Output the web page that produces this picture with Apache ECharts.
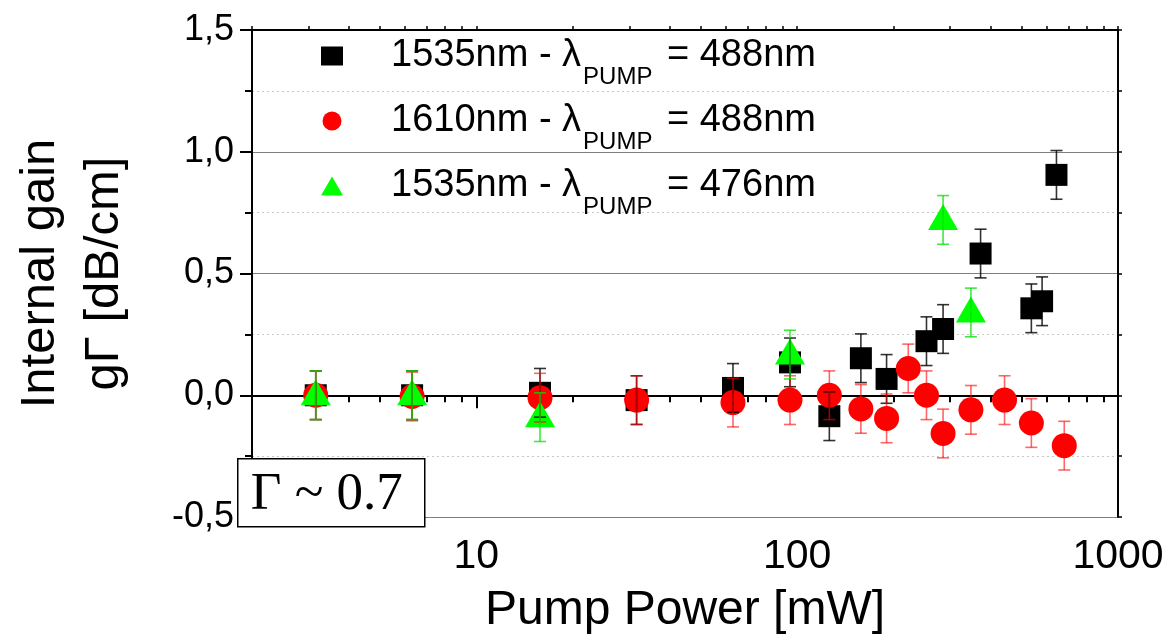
<!DOCTYPE html>
<html><head><meta charset="utf-8">
<script src="https://cdn.jsdelivr.net/npm/echarts@6/dist/echarts.min.js"></script>
<style>html,body{margin:0;padding:0;background:#fff}#c{width:1169px;height:640px}</style>
</head><body><div id="c"></div>
<script>
// ---- data ----
const seriesNames = ['1535nm - λPUMP = 488nm', '1610nm - λPUMP = 488nm', '1535nm - λPUMP = 476nm'];
const xBlack = [3.16, 6.31, 15.8, 31.6, 63.1, 95, 126, 158, 190, 253, 285, 373, 537, 580, 643];
const yBlack = [0.0, 0.0, 0.01, -0.02, 0.03, 0.135, -0.086, 0.152, 0.067, 0.222, 0.272, 0.582, 0.357, 0.386, 0.905];
const eBlack = [0.1, 0.1, 0.1, 0.1, 0.1, 0.1, 0.1, 0.1, 0.1, 0.1, 0.1, 0.1, 0.1, 0.1, 0.1];
const xRed = [3.16, 6.31, 15.8, 31.6, 63.1, 95, 126, 158, 190, 222, 253, 285, 348, 443, 537, 680];
const yRed = [0.0, -0.005, -0.01, -0.02, -0.03, -0.02, 0.0, -0.056, -0.095, 0.11, 0.0, -0.157, -0.06, -0.02, -0.114, -0.207];
const eRed = [0.1, 0.1, 0.1, 0.1, 0.1, 0.1, 0.1, 0.1, 0.1, 0.1, 0.1, 0.1, 0.1, 0.1, 0.1, 0.1];
const xGreen = [3.16, 6.31, 15.8, 95, 285, 348];
const yGreen = [0.0, 0.0, -0.09, 0.167, 0.72, 0.34];
const eGreen = [0.1, 0.1, 0.1, 0.1, 0.1, 0.1];
const xMajorTicks = [10, 100, 1000];
const xMinorTicks = [2, 3, 4, 5, 6, 7, 8, 9, 20, 30, 40, 50, 60, 70, 80, 90, 200, 300, 400, 500, 600, 700, 800, 900];
const yTickValues = [-0.5, 0, 0.5, 1, 1.5];
const yTickLabels = ['-0,5', '0,0', '0,5', '1,0', '1,5'];
const xTitle = 'Pump Power [mW]';
const yTitle = 'Internal gain\ngΓ [dB/cm]';
const noteText = 'Γ ~ 0.7';

// ---- helpers ----
const zip = (xs, ys, es) => xs.map((x, i) => es ? [x, ys[i], es[i]] : [x, ys[i]]);
function errRender(color, op) {
  return function (params, api) {
    const x = api.value(0), y = api.value(1), e = api.value(2);
    const t = api.coord([x, y + e]), b = api.coord([x, y - e]);
    const w = 6;
    const st = { stroke: color, lineWidth: 1.6, opacity: op };
    return { type: 'group', children: [
      { type: 'line', shape: { x1: t[0], y1: t[1], x2: b[0], y2: b[1] }, style: st },
      { type: 'line', shape: { x1: t[0] - w, y1: t[1], x2: t[0] + w, y2: t[1] }, style: st },
      { type: 'line', shape: { x1: b[0] - w, y1: b[1], x2: b[0] + w, y2: b[1] }, style: st }
    ]};
  };
}
const sans = "'Liberation Sans', Arial, sans-serif";
const black = { color: '#000', width: 2 };

const chart = echarts.init(document.getElementById('c'));
chart.setOption({
  animation: false,
  backgroundColor: '#fff',
  grid: { left: 241, right: 51, top: 30, bottom: 120, containLabel: false },
  legend: {
    orient: 'vertical', left: 316, top: 32, itemGap: 13, itemWidth: 22, itemHeight: 19,
    data: seriesNames,
    formatter: function (name) {
      const p = name.split('λPUMP');
      return '{g| }{a|' + p[0] + 'λ}{h| }{s|PUMP}{k| }{a|' + p[1] + '}';
    },
    textStyle: {
      color: '#000', fontFamily: sans, fontSize: 38,
      rich: {
        g: { width: 43, fontSize: 10, lineHeight: 66 },
        h: { width: 2, fontSize: 4, lineHeight: 66 },
        k: { width: 4, fontSize: 4, lineHeight: 66 },
        a: { fontSize: 38, fontFamily: sans, color: '#000', lineHeight: 66 },
        s: { fontSize: 24, fontFamily: sans, color: '#000', lineHeight: 24, verticalAlign: 'bottom' }
      }
    }
  },
  xAxis: [
    { type: 'log', logBase: 10, min: 2, max: 1000, position: 'bottom',
      axisLine: { lineStyle: black },
      axisTick: { show: true, inside: false, length: 7, lineStyle: { color: '#000', width: 2 }, customValues: xMinorTicks },
      axisLabel: { show: false }, splitLine: { show: false }, minorTick: { show: false } },
    { type: 'log', logBase: 10, min: 2, max: 1000, position: 'bottom',
      axisLine: { show: false },
      axisTick: { show: true, inside: false, length: 13, lineStyle: { color: '#000', width: 2 }, customValues: xMajorTicks },
      axisLabel: { show: true, customValues: xMajorTicks, margin: 19, fontSize: 41, fontFamily: sans, color: '#000',
        formatter: v => String(Math.round(v)) },
      splitLine: { show: false },
      name: xTitle, nameLocation: 'middle', nameGap: 70, nameMoveOverlap: false,
      nameTextStyle: { fontSize: 48, fontFamily: sans, color: '#000' } },
    { type: 'log', logBase: 10, min: 2, max: 1000, position: 'top',
      axisLine: { lineStyle: black },
      axisTick: { show: true, inside: false, length: 4, lineStyle: { color: '#000', width: 1.5 }, customValues: xMinorTicks.concat(xMajorTicks) },
      axisLabel: { show: false }, splitLine: { show: false } }
  ],
  yAxis: [
    { type: 'value', min: -0.5, max: 1.5, interval: 0.5, position: 'left',
      axisLine: { lineStyle: black },
      axisTick: { show: true, inside: false, length: 12, lineStyle: { color: '#000', width: 2 } },
      minorTick: { show: true, splitNumber: 2, length: 7, lineStyle: { color: '#000', width: 2 } },
      axisLabel: { margin: 18, fontSize: 36, fontFamily: sans, color: '#000',
        formatter: v => { const i = yTickValues.findIndex(t => Math.abs(t - v) < 1e-9); return i >= 0 ? yTickLabels[i] : ''; } },
      splitLine: { show: true, lineStyle: { color: '#7f7f7f', width: 1 } },
      minorSplitLine: { show: true, lineStyle: { color: '#c8c8c8', width: 1, type: [2, 3] } },
      name: yTitle, nameLocation: 'middle', nameRotate: 90, nameGap: 116, nameMoveOverlap: false,
      nameTextStyle: { fontSize: 49, fontFamily: sans, color: '#000', lineHeight: 64 } },
    { type: 'value', min: -0.5, max: 1.5, interval: 0.5, position: 'right',
      axisLine: { show: true, lineStyle: black },
      axisTick: { show: true, inside: false, length: 4, lineStyle: { color: '#000', width: 1.5 } },
      minorTick: { show: true, splitNumber: 2, length: 4, lineStyle: { color: '#000', width: 1.5 } },
      axisLabel: { show: false }, splitLine: { show: false } }
  ],
  series: [
    { name: seriesNames[0], type: 'scatter', symbol: 'rect', symbolSize: 22, z: 2,
      itemStyle: { color: '#000', opacity: 1 }, data: zip(xBlack, yBlack) },
    { name: seriesNames[1], type: 'scatter', symbol: 'circle', symbolSize: 25, z: 3,
      itemStyle: { color: '#ff0000', opacity: 1 }, data: zip(xRed, yRed) },
    { name: seriesNames[2], type: 'scatter', symbol: 'triangle', symbolSize: [30, 26], symbolOffset: [0, -3], z: 4,
      itemStyle: { color: '#00ff00', opacity: 1 }, data: zip(xGreen, yGreen) },
    { type: 'custom', z: 5, renderItem: errRender('#000', 0.8), encode: { x: 0, y: 1 }, data: zip(xBlack, yBlack, eBlack), silent: true },
    { type: 'custom', z: 5, renderItem: errRender('#ff0000', 0.6), encode: { x: 0, y: 1 }, data: zip(xRed, yRed, eRed), silent: true },
    { type: 'custom', z: 5, renderItem: errRender('#00e000', 0.75), encode: { x: 0, y: 1 }, data: zip(xGreen, yGreen, eGreen), silent: true }
  ],
  graphic: [
    { type: 'group', left: 237, top: 458, z: 100, children: [
      { type: 'rect', z: 100, shape: { x: 0, y: 0, width: 187, height: 68 }, style: { fill: '#fff', stroke: '#000', lineWidth: 1.5 } },
      { type: 'text', z: 101, x: 13, y: 36, style: { text: noteText, font: "53px 'Liberation Serif', 'Times New Roman', serif", fill: '#000', verticalAlign: 'middle' } }
    ]}
  ]
});
</script></body></html>
